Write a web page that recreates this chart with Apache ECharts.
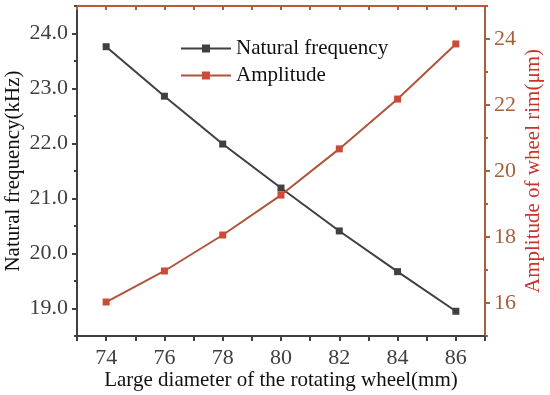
<!DOCTYPE html>
<html>
<head>
<meta charset="utf-8">
<script src="https://cdn.jsdelivr.net/npm/echarts@6/dist/echarts.min.js"></script>
<style>html,body{margin:0;padding:0;background:#fff}#c{width:550px;height:395px}</style>
</head>
<body>
<div id="c"></div>
<script>
var diameters = [74, 76, 78, 80, 82, 84, 86];
var naturalFrequency = [23.76, 22.86, 21.99, 21.19, 20.41, 19.67, 18.95];
var amplitude = [16.03, 16.97, 18.06, 19.27, 20.67, 22.18, 23.85];
var leftLabels = [19, 20, 21, 22, 23, 24];
var rightLabels = [16, 18, 20, 22, 24];
var xLabels = [74, 76, 78, 80, 82, 84, 86];

var FONT = 'Liberation Serif';
var DARK = '#404040';
var BROWN = '#a5603c';
var RED = '#c8342c';

var chart = echarts.init(document.getElementById('c'));
chart.setOption({
  animation: false,
  backgroundColor: '#fff',
  grid: { left: 77, right: 65, top: 6, bottom: 59, containLabel: false, outerBoundsMode: 'none' },
  legend: {
    orient: 'vertical', left: 180, top: 38, padding: 0,
    itemWidth: 50, itemHeight: 10, itemGap: 6,
    textStyle: { fontFamily: FONT, fontSize: 21, color: '#111' },
    data: ['Natural frequency', 'Amplitude']
  },
  xAxis: [{
    type: 'value', min: 73, max: 87, interval: 1, position: 'bottom',
    name: 'Large diameter of the rotating wheel(mm)', nameLocation: 'middle', nameGap: 34,
    nameMoveOverlap: false,
    nameTextStyle: { fontFamily: FONT, fontSize: 21, color: '#111' },
    axisLine: { lineStyle: { color: DARK, width: 2 } },
    axisTick: { show: true, length: 5, lineStyle: { color: DARK, width: 2 } },
    axisLabel: { fontFamily: FONT, fontSize: 22, color: DARK, margin: 11,
      customValues: xLabels, formatter: function (v) { return String(v); } },
    splitLine: { show: false }
  }, {
    type: 'value', min: 73, max: 87, interval: 1, position: 'top',
    axisLine: { show: true, lineStyle: { color: '#c2553c', width: 2 } },
    axisTick: { show: true, inside: true, length: 4, lineStyle: { color: BROWN, width: 2 } },
    axisLabel: { show: false }, splitLine: { show: false }
  }],
  yAxis: [{
    type: 'value', min: 18.5, max: 24.5, interval: 0.5, position: 'left',
    name: 'Natural frequency(kHz)', nameLocation: 'middle', nameGap: 53, nameRotate: 90,
    nameMoveOverlap: false,
    nameTextStyle: { fontFamily: FONT, fontSize: 21, color: '#111' },
    axisLine: { show: true, lineStyle: { color: DARK, width: 2 } },
    axisTick: { show: true, length: 5, customValues: leftLabels, lineStyle: { color: DARK, width: 2 } },
    axisLabel: { fontFamily: FONT, fontSize: 22, color: DARK, margin: 9, customValues: leftLabels,
      formatter: function (v) { return Number(v).toFixed(1); } },
    splitLine: { show: false }
  }, {
    type: 'value', min: 15, max: 25, interval: 1, position: 'right',
    name: 'Amplitude of wheel rim(\u03bcm)', nameLocation: 'middle', nameGap: 38, nameRotate: 90,
    nameMoveOverlap: false,
    nameTextStyle: { fontFamily: FONT, fontSize: 21, color: RED },
    axisLine: { show: true, lineStyle: { color: BROWN, width: 2 } },
    axisTick: { show: true, length: 5, customValues: rightLabels, lineStyle: { color: BROWN, width: 2 } },
    axisLabel: { fontFamily: FONT, fontSize: 22, color: BROWN, margin: 9, customValues: rightLabels,
      formatter: function (v) { return String(v); } },
    splitLine: { show: false }
  }, {
    type: 'value', min: 18.5, max: 24.5, interval: 0.5, position: 'left',
    axisLine: { show: false },
    axisTick: { show: true, length: 3, lineStyle: { color: DARK, width: 2 } },
    axisLabel: { show: false }, splitLine: { show: false }
  }, {
    type: 'value', min: 15, max: 25, interval: 1, position: 'right',
    axisLine: { show: false },
    axisTick: { show: true, length: 3, lineStyle: { color: BROWN, width: 2 } },
    axisLabel: { show: false }, splitLine: { show: false }
  }],
  series: [{
    name: 'Natural frequency', type: 'line', xAxisIndex: 0, yAxisIndex: 0,
    data: diameters.map(function (d, i) { return [d, naturalFrequency[i]]; }),
    symbol: 'rect', symbolSize: 7, showAllSymbol: true,
    lineStyle: { color: DARK, width: 2 }, itemStyle: { color: DARK }
  }, {
    name: 'Amplitude', type: 'line', xAxisIndex: 0, yAxisIndex: 1,
    data: diameters.map(function (d, i) { return [d, amplitude[i]]; }),
    symbol: 'rect', symbolSize: 7, showAllSymbol: true,
    lineStyle: { color: '#b0553a', width: 2 }, itemStyle: { color: '#cc4a38' }
  }]
});
</script>
</body>
</html>
